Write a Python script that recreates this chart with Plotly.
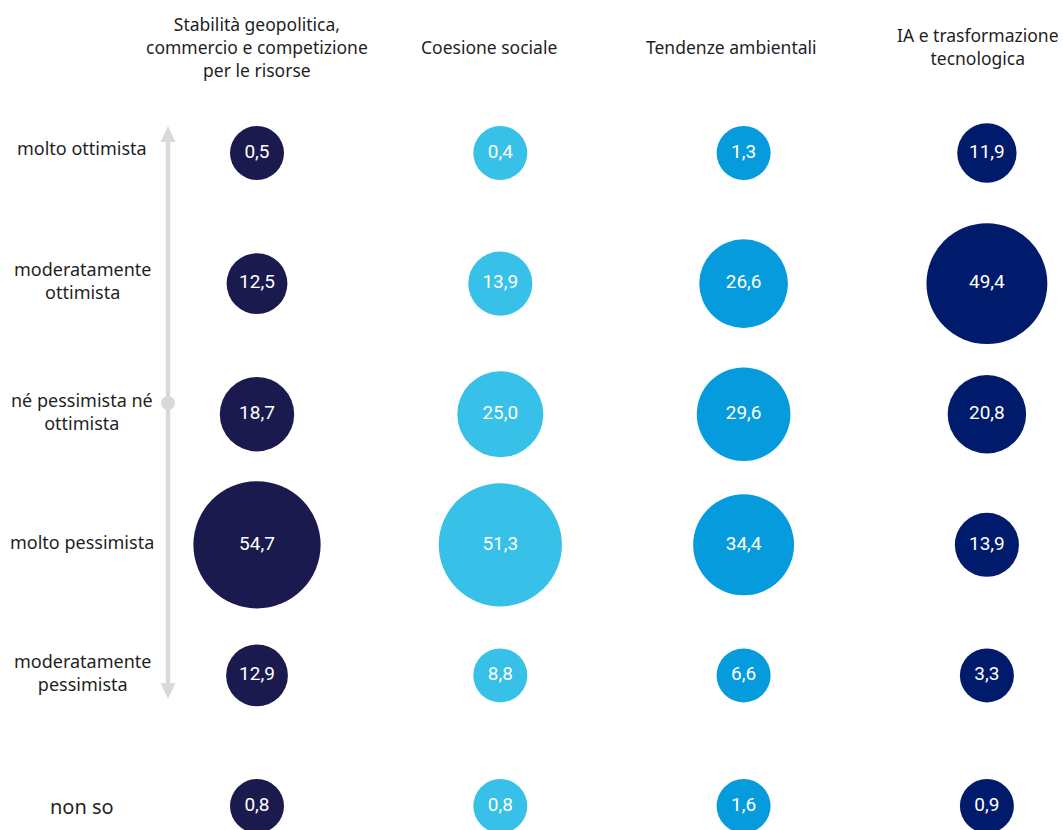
import plotly.graph_objects as go
import math

# ---- data ----
columns = [
    "Stabilità geopolitica,<br>commercio e competizione<br>per le risorse",
    "Coesione sociale",
    "Tendenze ambientali",
    "IA e trasformazione<br>tecnologica",
]
rows = [
    "molto ottimista",
    "moderatamente<br>ottimista",
    "né pessimista né<br>ottimista",
    "molto pessimista",
    "moderatamente<br>pessimista",
    "non so",
]
geopolitica = [0.5, 12.5, 18.7, 54.7, 12.9, 0.8]
coesione = [0.4, 13.9, 25.0, 51.3, 8.8, 0.8]
ambiente = [1.3, 26.6, 29.6, 34.4, 6.6, 1.6]
ia = [11.9, 49.4, 20.8, 13.9, 3.3, 0.9]
series = [geopolitica, coesione, ambiente, ia]
colors = ["#1b1a4e", "#37c0e8", "#069bdc", "#001b6b"]

W, H = 1063, 830
K = 17.2      # px of diameter per sqrt(value)
DMIN = 54     # minimum bubble diameter in px

def px(x):
    return x / W

def py(y):
    return 1 - y / H

fig = go.Figure()
for ci, (vals, col) in enumerate(zip(series, colors)):
    sizes = [max(DMIN, K * math.sqrt(v)) for v in vals]
    fig.add_trace(go.Scatter(
        x=[ci + 1] * len(vals),
        y=list(range(len(vals))),
        mode="markers+text",
        marker=dict(size=sizes, sizemode="diameter", color=col, line=dict(width=0), opacity=1),
        text=[f"{v:.1f}".replace(".", ",") for v in vals],
        textposition="middle center",
        textfont=dict(family="Roboto, sans-serif", size=19, color="white"),
        hoverinfo="skip",
        showlegend=False,
        cliponaxis=False,
    ))

# column headers
header_x = [257, 489, 731, 978]
header_y = [47, 47, 47, 46]
annotations = []
for name, hx, hy in zip(columns, header_x, header_y):
    annotations.append(dict(
        x=px(hx), y=py(hy), xref="paper", yref="paper",
        text=name, showarrow=False, xanchor="center", yanchor="middle",
        align="center", font=dict(family="Noto Sans, sans-serif", size=17.5, color="#1f1f1f"),
    ))

# row labels
label_shift = [5, 3, 3, 3, 3, 0]
label_size = [18, 18, 18, 18, 18, 20]
for ri, name in enumerate(rows):
    annotations.append(dict(
        x=px(82), y=ri, xref="paper", yref="y",
        text=name, showarrow=False, xanchor="center", yanchor="middle",
        align="center", yshift=label_shift[ri],
        font=dict(family="Noto Sans, sans-serif", size=label_size[ri], color="#1f1f1f"),
    ))

grey = "#d9d9d9"
ax_x = 168
shapes = [
    dict(type="line", xref="paper", yref="paper", x0=px(ax_x), x1=px(ax_x),
         y0=py(140), y1=py(685), line=dict(color=grey, width=4.5), layer="below"),
    dict(type="path", xref="paper", yref="paper",
         path=f"M {px(ax_x)},{py(126)} L {px(ax_x-7.5)},{py(142)} L {px(ax_x+7.5)},{py(142)} Z",
         fillcolor=grey, line=dict(width=0), layer="below"),
    dict(type="path", xref="paper", yref="paper",
         path=f"M {px(ax_x)},{py(699)} L {px(ax_x-7.5)},{py(683)} L {px(ax_x+7.5)},{py(683)} Z",
         fillcolor=grey, line=dict(width=0), layer="below"),
    dict(type="circle", xref="paper", yref="paper",
         x0=px(ax_x-7), x1=px(ax_x+7), y0=py(396), y1=py(410),
         fillcolor=grey, line=dict(width=0), layer="below"),
]

x0 = 1 - 257 / 243.3
x1 = 1 + (W - 257) / 243.3
ystep = 130.6
ytop = -153 / ystep
ybot = (H - 153) / ystep

fig.update_layout(
    width=W, height=H,
    margin=dict(l=0, r=0, t=0, b=0),
    paper_bgcolor="white", plot_bgcolor="white",
    xaxis=dict(range=[x0, x1], visible=False, fixedrange=True),
    yaxis=dict(range=[ybot, ytop], visible=False, fixedrange=True),
    annotations=annotations,
    shapes=shapes,
)

fig.write_html("out.html", config={"displayModeBar": False},
               post_script="document.body.style.margin='0';document.body.style.overflow='hidden';")
